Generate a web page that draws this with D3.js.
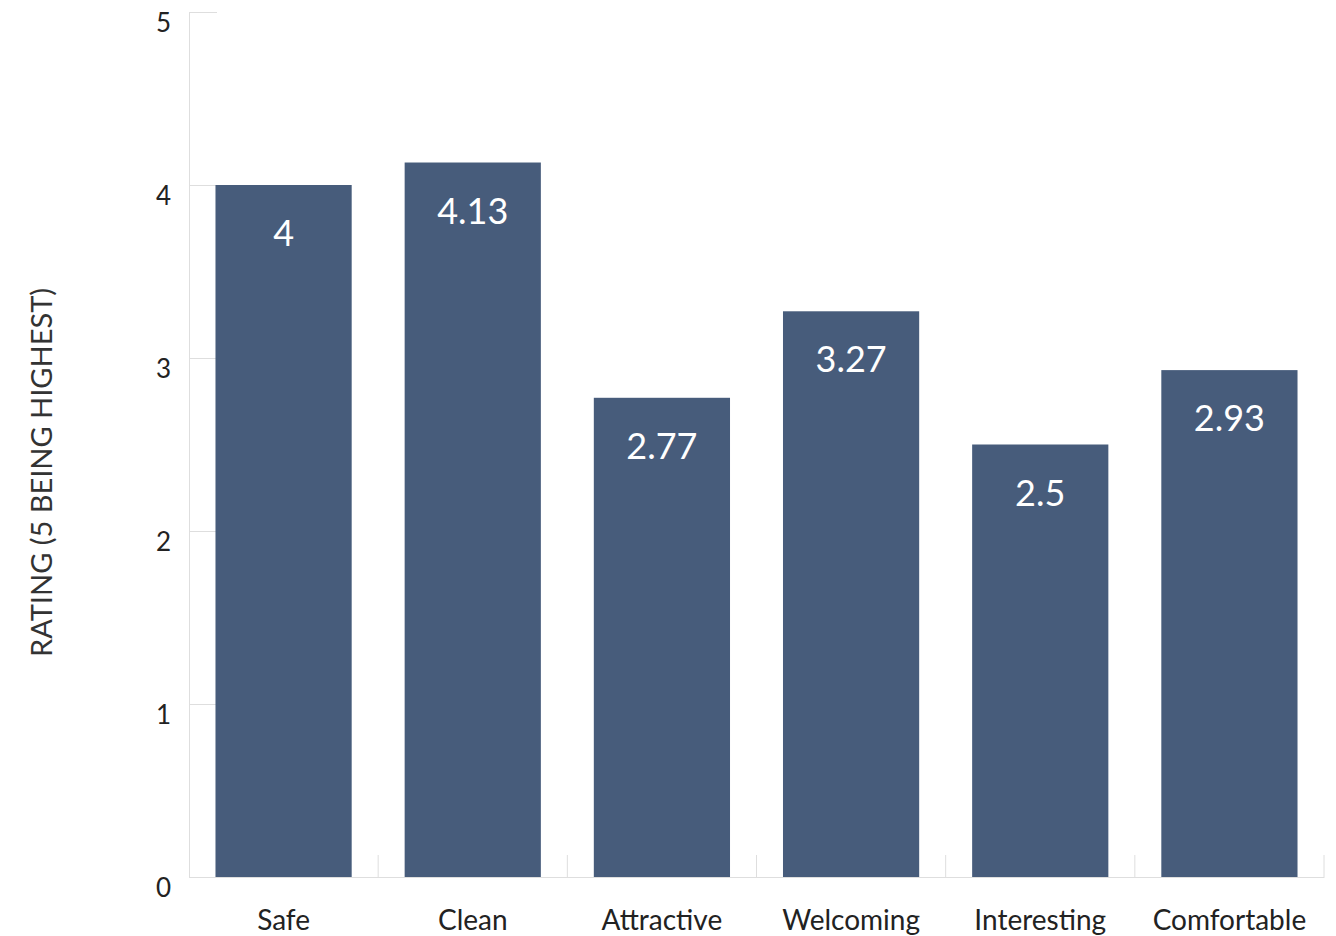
<!DOCTYPE html>
<html>
<head>
<meta charset="utf-8">
<script src="https://cdn.jsdelivr.net/npm/d3@7"></script>
<style>
  body { margin: 0; background: #fff; }
  svg, svg text { font-family: Lato, "Open Sans", sans-serif; }
</style>
</head>
<body>
<svg id="chart" width="1336" height="936"></svg>
<script>
// 数据
const categories = ['Safe', 'Clean', 'Attractive', 'Welcoming', 'Interesting', 'Comfortable'];
const ratings = [4, 4.13, 2.77, 3.27, 2.5, 2.93];
const yTicks = [0, 1, 2, 3, 4, 5];
const yTitle = 'RATING (5 BEING HIGHEST)';

const width = 1336, height = 936;
const margin = {top: 12, right: 12, bottom: 59, left: 189};
const axisColor = '#dedede', barColor = '#475c7b';

const svg = d3.select('#chart');

const x = d3.scaleBand().domain(categories)
            .range([margin.left, width - margin.right])
            .paddingInner(0.28).paddingOuter(0.14);
const y = d3.scaleLinear().domain([0, 5]).range([height - margin.bottom, margin.top]);

// y轴：刻度朝右
const yAxis = svg.append('g')
   .attr('transform', `translate(${margin.left},0)`)
   .call(d3.axisLeft(y).tickValues(yTicks).tickFormat(d3.format('d'))
           .tickSize(-28).tickSizeOuter(0).tickPadding(18))
   .attr('font-family', null);
yAxis.select('.domain').attr('stroke', axisColor);
yAxis.selectAll('.tick line').attr('stroke', axisColor);
yAxis.selectAll('.tick text').attr('font-size', 26).attr('fill', '#222').attr('dy', '0.75em');

// x轴
const xAxis = svg.append('g')
   .attr('transform', `translate(0,${y(0)})`)
   .call(d3.axisBottom(x).tickSize(0).tickPadding(33))
   .attr('font-family', null);
xAxis.select('.domain').attr('stroke', axisColor);
xAxis.selectAll('.tick text').attr('font-size', 28).attr('fill', '#222');

// 分类边界的小竖线
const bounds = d3.range(categories.length + 1).map(i => x.range()[0] + i * x.step());
svg.append('g').selectAll('line').data(bounds.slice(1)).enter()
   .append('line')
   .attr('x1', d => d).attr('x2', d => d)
   .attr('y1', y(0) - 22).attr('y2', y(0))
   .attr('stroke', axisColor);

// 柱子
svg.append('g').selectAll('rect').data(ratings).enter()
   .append('rect')
   .attr('x', (d, i) => x(categories[i]))
   .attr('y', d => y(d))
   .attr('width', x.bandwidth())
   .attr('height', d => y(0) - y(d))
   .attr('fill', barColor);

// 数值标签
svg.append('g').selectAll('text').data(ratings).enter()
   .append('text')
   .attr('x', (d, i) => x(categories[i]) + x.bandwidth() / 2)
   .attr('y', d => y(d) + 61)
   .attr('text-anchor', 'middle')
   .attr('font-size', 36)
   .attr('fill', '#fff')
   .text(d => d);

// y轴标题
svg.append('text')
   .attr('transform', `translate(42,${(margin.top + y(0)) / 2 + 28}) rotate(-90)`)
   .attr('text-anchor', 'middle')
   .attr('dy', '0.35em')
   .attr('font-size', 29)
   .attr('fill', '#333')
   .text(yTitle);
</script>
</body>
</html>
